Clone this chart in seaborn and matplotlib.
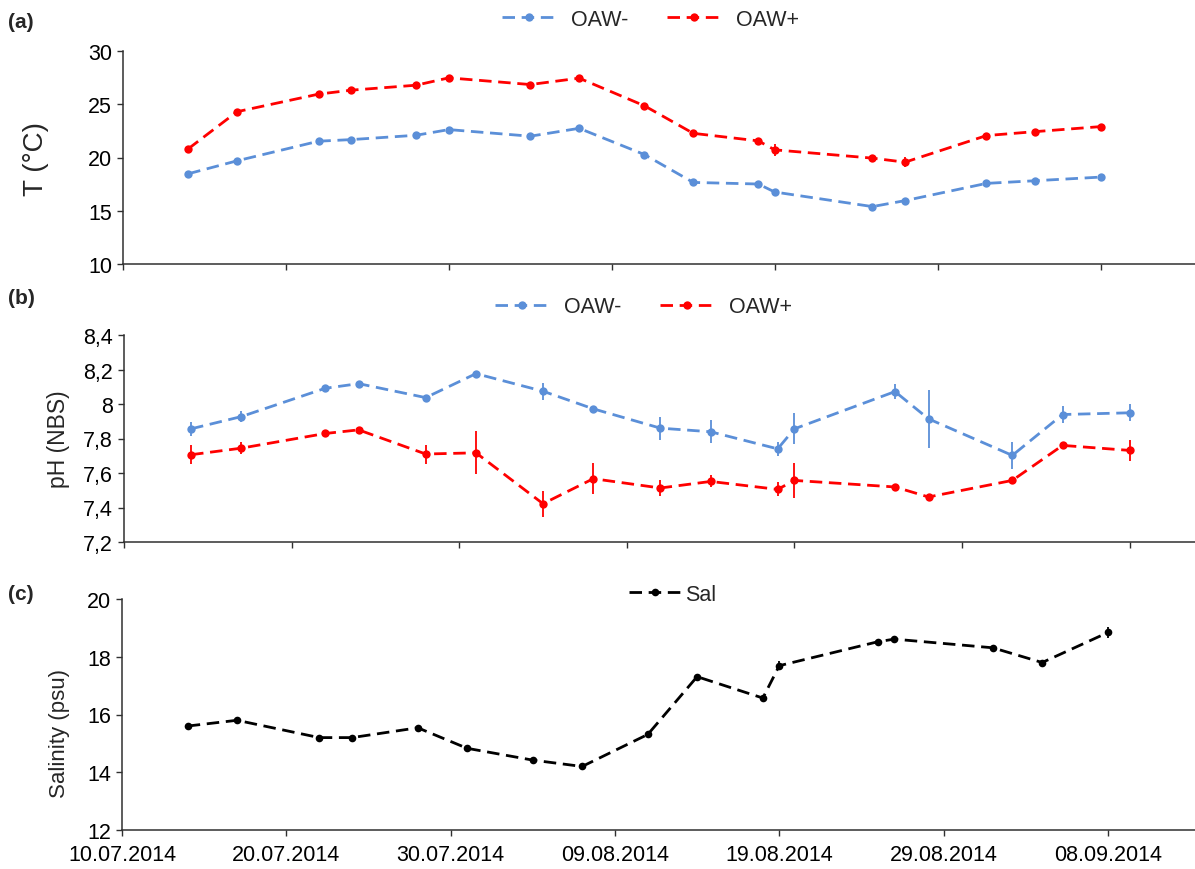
import pandas as pd
import numpy as np
import matplotlib
matplotlib.use("Agg")
import matplotlib.pyplot as plt
import matplotlib.dates as mdates
import seaborn as sns

# Plot style
sns.set_theme(style="ticks")
plt.rcParams['font.family'] = ['Liberation Sans', 'DejaVu Sans']

# Sampling dates (they differ a little)
t_dates = ['2014-07-14', '2014-07-17', '2014-07-22', '2014-07-24', '2014-07-28', '2014-07-30',
           '2014-08-04', '2014-08-07', '2014-08-11', '2014-08-14', '2014-08-18', '2014-08-19',
           '2014-08-25', '2014-08-27', '2014-09-01', '2014-09-04', '2014-09-08']
ph_dates = ['2014-07-14', '2014-07-17', '2014-07-22', '2014-07-24', '2014-07-28', '2014-07-31',
            '2014-08-04', '2014-08-07', '2014-08-11', '2014-08-14', '2014-08-18', '2014-08-19',
            '2014-08-25', '2014-08-27', '2014-09-01', '2014-09-04', '2014-09-08']
sal_dates = ['2014-07-14', '2014-07-17', '2014-07-22', '2014-07-24', '2014-07-28', '2014-07-31',
             '2014-08-04', '2014-08-07', '2014-08-11', '2014-08-14', '2014-08-18', '2014-08-19',
             '2014-08-25', '2014-08-26', '2014-09-01', '2014-09-04', '2014-09-08']

# (a) temperature
t_minus = [18.47, 19.69, 21.53, 21.68, 22.09, 22.62, 22.00, 22.74, 20.28,
           17.66, 17.51, 16.76, 15.39, 15.95, 17.57, 17.82, 18.16]
t_minus_err = [0.15, 0.15, 0.1, 0.1, 0.1, 0.1, 0.1, 0.1, 0.1,
               0.1, 0.1, 0.2, 0.1, 0.15, 0.1, 0.1, 0.1]
t_plus = [20.81, 24.30, 25.95, 26.32, 26.79, 27.48, 26.85, 27.45, 24.86,
          22.27, 21.56, 20.72, 19.94, 19.56, 22.06, 22.43, 22.90]
t_plus_err = [0.3, 0.3, 0.1, 0.1, 0.1, 0.1, 0.1, 0.1, 0.1,
              0.1, 0.1, 0.55, 0.1, 0.45, 0.1, 0.1, 0.1]

# (b) pH
ph_minus = [7.856, 7.927, 8.091, 8.118, 8.037, 8.176, 8.074, 7.972, 7.860,
            7.839, 7.740, 7.856, 8.072, 7.914, 7.702, 7.939, 7.949]
ph_minus_err = [0.04, 0.03, 0.01, 0.01, 0.01, 0.01, 0.05, 0.01, 0.067,
                0.067, 0.04, 0.09, 0.045, 0.17, 0.08, 0.05, 0.05]
ph_plus = [7.706, 7.744, 7.829, 7.850, 7.710, 7.717, 7.422, 7.567, 7.513,
           7.551, 7.505, 7.557, 7.519, 7.461, 7.557, 7.760, 7.731]
ph_plus_err = [0.055, 0.035, 0.01, 0.01, 0.055, 0.125, 0.075, 0.09, 0.045,
               0.035, 0.04, 0.1, 0.01, 0.01, 0.02, 0.02, 0.06]

# (c) salinity
sal = [15.60, 15.80, 15.20, 15.20, 15.54, 14.83, 14.42, 14.20, 15.31,
       17.31, 16.57, 17.69, 18.52, 18.61, 18.31, 17.80, 18.84]
sal_err = [0.03, 0.03, 0.03, 0.03, 0.03, 0.05, 0.03, 0.03, 0.1,
           0.03, 0.1, 0.15, 0.05, 0.05, 0.08, 0.05, 0.18]

x_tick_dates = ['2014-07-10', '2014-07-20', '2014-07-30', '2014-08-09',
                '2014-08-19', '2014-08-29', '2014-09-08']
t_ticks = [10, 15, 20, 25, 30]
ph_ticks = [7.2, 7.4, 7.6, 7.8, 8.0, 8.2, 8.4]
ph_tick_labels = ['7,2', '7,4', '7,6', '7,8', '8', '8,2', '8,4']
sal_ticks = [12, 14, 16, 18, 20]

BLUE = '#5B8FD8'
RED = '#FF0000'
DASH = (0, (4.5, 2.4))
W, H = 1195, 870

fig = plt.figure(figsize=(W / 100, H / 100), dpi=100)
ax_a = fig.add_axes([123 / W, 1 - 265 / H, 1 - 123 / W, 213 / H])
ax_b = fig.add_axes([124 / W, 1 - 543 / H, 1 - 124 / W, 207 / H])
ax_c = fig.add_axes([122 / W, 1 - 831 / H, 1 - 122 / W, 231 / H])


def draw(ax, dates, vals, errs, color, label, ms=6):
    d = pd.to_datetime(dates)
    ax.errorbar(d, vals, yerr=errs, fmt='none', ecolor=color, elinewidth=1.3, capsize=0)
    sns.lineplot(x=d, y=vals, ax=ax, color=color, marker='o', markersize=ms,
                 markeredgewidth=0, linewidth=2.0, linestyle=DASH, label=label, sort=False)


draw(ax_a, t_dates, t_minus, t_minus_err, BLUE, 'OAW-')
draw(ax_a, t_dates, t_plus, t_plus_err, RED, 'OAW+')
draw(ax_b, ph_dates, ph_minus, ph_minus_err, BLUE, 'OAW-')
draw(ax_b, ph_dates, ph_plus, ph_plus_err, RED, 'OAW+')
draw(ax_c, sal_dates, sal, sal_err, 'black', 'Sal', ms=5.5)

start = pd.Timestamp('2014-07-10')
xticks = pd.to_datetime(x_tick_dates)
for ax, span in [(ax_a, 65.8), (ax_b, 63.9), (ax_c, 65.3)]:
    ax.set_xlim(start, start + pd.Timedelta(days=span))
    ax.set_xticks(xticks)
    ax.xaxis.set_major_formatter(mdates.DateFormatter('%d.%m.%Y'))
    sns.despine(ax=ax)
    for s in ['left', 'bottom']:
        ax.spines[s].set_color('#303030')
        ax.spines[s].set_linewidth(1.1)
    ax.tick_params(axis='both', direction='out', length=4, width=1.0, color='#303030',
                   labelsize=15.5, labelcolor='black', pad=4)
    ax.set_xlabel('')

ax_a.tick_params(labelbottom=False)
ax_b.tick_params(labelbottom=False)
ax_c.tick_params(axis='x', pad=6)

ax_a.set_ylim(10, 30)
ax_a.set_yticks(t_ticks)
ax_a.set_ylabel('T (°C)', fontsize=20)
ax_a.yaxis.set_label_coords(-0.069, 0.5)

ax_b.set_ylim(7.2, 8.4)
ax_b.set_yticks(ph_ticks)
ax_b.set_yticklabels(ph_tick_labels)
ax_b.set_ylabel('pH (NBS)', fontsize=16.5)
ax_b.yaxis.set_label_coords(-0.05, 0.5)

ax_c.set_ylim(12, 20)
ax_c.set_yticks(sal_ticks)
ax_c.set_ylabel('Salinity (psu)', fontsize=16)
ax_c.yaxis.set_label_coords(-0.048, 0.42)

# Legends
ax_a.legend(loc='center', bbox_to_anchor=(0.492, 1.15), ncol=2, frameon=False, fontsize=15.5,
            handlelength=2.5, handletextpad=0.7, columnspacing=1.8)
ax_b.legend(loc='center', bbox_to_anchor=(0.485, 1.137), ncol=2, frameon=False, fontsize=15.5,
            handlelength=2.5, handletextpad=0.7, columnspacing=1.8)
ax_c.legend(loc='center', bbox_to_anchor=(0.5135, 1.02), frameon=False, fontsize=15.5,
            handlelength=2.4, handletextpad=0.2)

# Panel letters
fig.text(8 / W, 1 - 22 / H, '(a)', fontsize=15, fontweight='bold', va='center')
fig.text(8 / W, 1 - 298 / H, '(b)', fontsize=15, fontweight='bold', va='center')
fig.text(8 / W, 1 - 595 / H, '(c)', fontsize=15, fontweight='bold', va='center')

fig.savefig('out.png', dpi=100)
